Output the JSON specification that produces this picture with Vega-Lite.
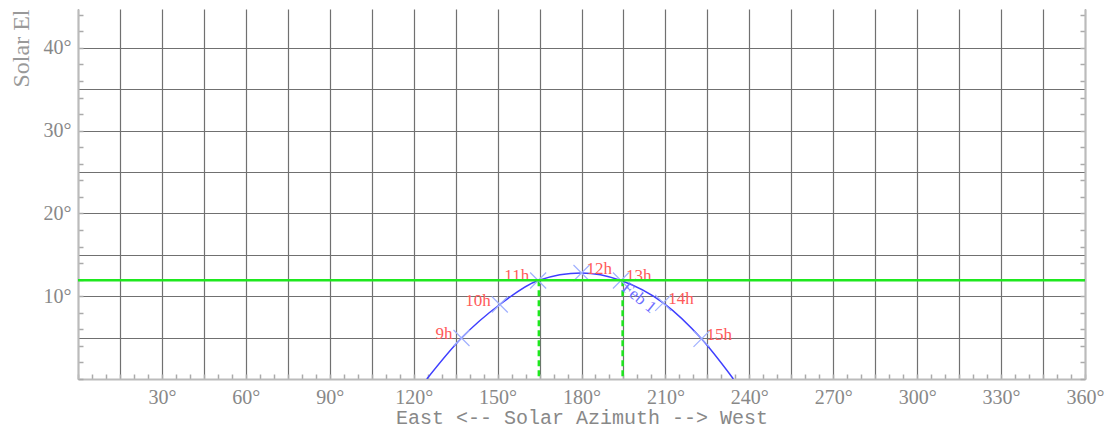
{
  "$schema": "https://vega.github.io/schema/vega-lite/v6.json",
  "width": 1007,
  "height": 370,
  "autosize": "none",
  "padding": {"left": 78, "top": 9, "right": 27, "bottom": 51},
  "background": "white",
  "config": {
    "view": {"stroke": null},
    "axis": {
      "domainColor": "#bbbbbb",
      "domainWidth": 2,
      "tickColor": "#aaaaaa",
      "tickWidth": 1.5,
      "gridColor": "#707070",
      "gridWidth": 1.2,
      "labelFont": "Liberation Serif",
      "labelFontSize": 20,
      "labelColor": "#888888",
      "labelOverlap": false,
      "labelFlush": false
    }
  },
  "datasets": {
    "curve": [
      {"az": 124.7, "el": 0},
      {"az": 137.1, "el": 4.95},
      {"az": 150.8, "el": 9.0},
      {"az": 164.5, "el": 11.9},
      {"az": 180.0, "el": 12.8},
      {"az": 194.1, "el": 11.9},
      {"az": 209.2, "el": 9.2},
      {"az": 222.9, "el": 4.85},
      {"az": 234.3, "el": 0}
    ],
    "hours": [
      {"hour": "9h", "az": 137.1, "el": 4.95, "side": "am"},
      {"hour": "10h", "az": 150.8, "el": 9.0, "side": "am"},
      {"hour": "11h", "az": 164.5, "el": 11.9, "side": "am"},
      {"hour": "12h", "az": 180.0, "el": 12.8, "side": "pm"},
      {"hour": "13h", "az": 194.1, "el": 11.9, "side": "pm"},
      {"hour": "14h", "az": 209.2, "el": 9.2, "side": "pm"},
      {"hour": "15h", "az": 222.9, "el": 4.85, "side": "pm"}
    ],
    "crossings": [
      {"az": 164.75, "el": 11.92},
      {"az": 194.7, "el": 11.92}
    ],
    "dates": [
      {"label": "Feb 1", "az": 194.7, "el": 11.4}
    ],
    "horizon": [
      {"el": 11.92}
    ]
  },
  "layer": [
    {
      "encoding": {
        "x": {
          "field": "az", "type": "quantitative",
          "scale": {"domain": [0, 360], "nice": false, "zero": false},
          "axis": {
            "orient": "bottom",
            "title": "East <-- Solar Azimuth --> West",
            "titleFont": "Liberation Mono",
            "titleFontSize": 20,
            "titleFontWeight": "normal",
            "titleColor": "#888888",
            "titlePadding": 0,
            "values": [0,5,10,15,20,25,30,35,40,45,50,55,60,65,70,75,80,85,90,95,100,105,110,115,120,125,130,135,140,145,150,155,160,165,170,175,180,185,190,195,200,205,210,215,220,225,230,235,240,245,250,255,260,265,270,275,280,285,290,295,300,305,310,315,320,325,330,335,340,345,350,355,360],
            "labelExpr": "datum.value % 30 === 0 && datum.value > 0 ? datum.value + '°' : ''",
            "tickSize": -5,
            "labelPadding": 13,
            "gridOpacity": {"condition": {"test": "datum.value % 15 === 0", "value": 1}, "value": 0}
          }
        },
        "y": {
          "field": "el", "type": "quantitative",
          "scale": {"domain": [0, 44.7], "nice": false, "zero": false},
          "axis": {
            "orient": "left",
            "title": "Solar El",
            "titleFont": "Liberation Serif",
            "titleFontSize": 24,
            "titleFontWeight": "normal",
            "titleColor": "#999999",
            "titleAnchor": "end",
            "titlePadding": 10,
            "values": [0,1,2,3,4,5,6,7,8,9,10,11,12,13,14,15,16,17,18,19,20,21,22,23,24,25,26,27,28,29,30,31,32,33,34,35,36,37,38,39,40,41,42,43,44],
            "labelExpr": "datum.value % 10 === 0 && datum.value > 0 ? datum.value + '°' : ''",
            "tickSize": -5,
            "labelPadding": 12,
            "tickOpacity": {"condition": {"test": "datum.value % 2 === 0", "value": 1}, "value": 0},
            "gridOpacity": {"condition": {"test": "datum.value % 5 === 0", "value": 1}, "value": 0}
          }
        }
      },
      "layer": [
        {
          "data": {"name": "curve"},
          "mark": {"type": "line", "color": "#3f3fff", "strokeWidth": 1.5, "interpolate": "monotone", "clip": true}
        },
        {
          "data": {"name": "crossings"},
          "mark": {"type": "rule", "color": "#1ee81e", "strokeWidth": 2.5, "strokeDash": [6, 4]},
          "encoding": {
            "y2": {"datum": 0}
          }
        },
        {
          "data": {"name": "hours"},
          "mark": {"type": "point", "shape": "M-1,-1L1,1M1,-1L-1,1", "size": 256, "filled": false, "color": "#a0b0ff", "strokeWidth": 1.2, "opacity": 1}
        },
        {
          "data": {"name": "hours"},
          "transform": [{"filter": "datum.side === 'am'"}],
          "mark": {"type": "text", "align": "right", "baseline": "middle", "dx": -9, "dy": -4, "font": "Liberation Serif", "fontSize": 17, "color": "#ff5a5a"},
          "encoding": {"text": {"field": "hour"}}
        },
        {
          "data": {"name": "hours"},
          "transform": [{"filter": "datum.side === 'pm'"}],
          "mark": {"type": "text", "align": "left", "baseline": "middle", "dx": 5, "dy": -4, "font": "Liberation Serif", "fontSize": 17, "color": "#ff5a5a"},
          "encoding": {"text": {"field": "hour"}}
        },
        {
          "data": {"name": "dates"},
          "mark": {"type": "text", "align": "left", "baseline": "middle", "angle": 39, "dx": 2, "font": "Liberation Serif", "fontSize": 17, "color": "#6f6fff"},
          "encoding": {"text": {"field": "label"}}
        }
      ]
    },
    {
      "data": {"name": "horizon"},
      "mark": {"type": "rule", "color": "#1ee81e", "strokeWidth": 2.5},
      "encoding": {
        "y": {
          "field": "el", "type": "quantitative",
          "scale": {"domain": [0, 44.7], "nice": false, "zero": false},
          "axis": {
            "orient": "right",
            "title": null,
            "labels": false,
            "grid": false,
            "values": [0,2,4,6,8,10,12,14,16,18,20,22,24,26,28,30,32,34,36,38,40,42,44],
            "tickSize": -5
          }
        }
      }
    }
  ],
  "resolve": {"axis": {"y": "independent"}}
}
